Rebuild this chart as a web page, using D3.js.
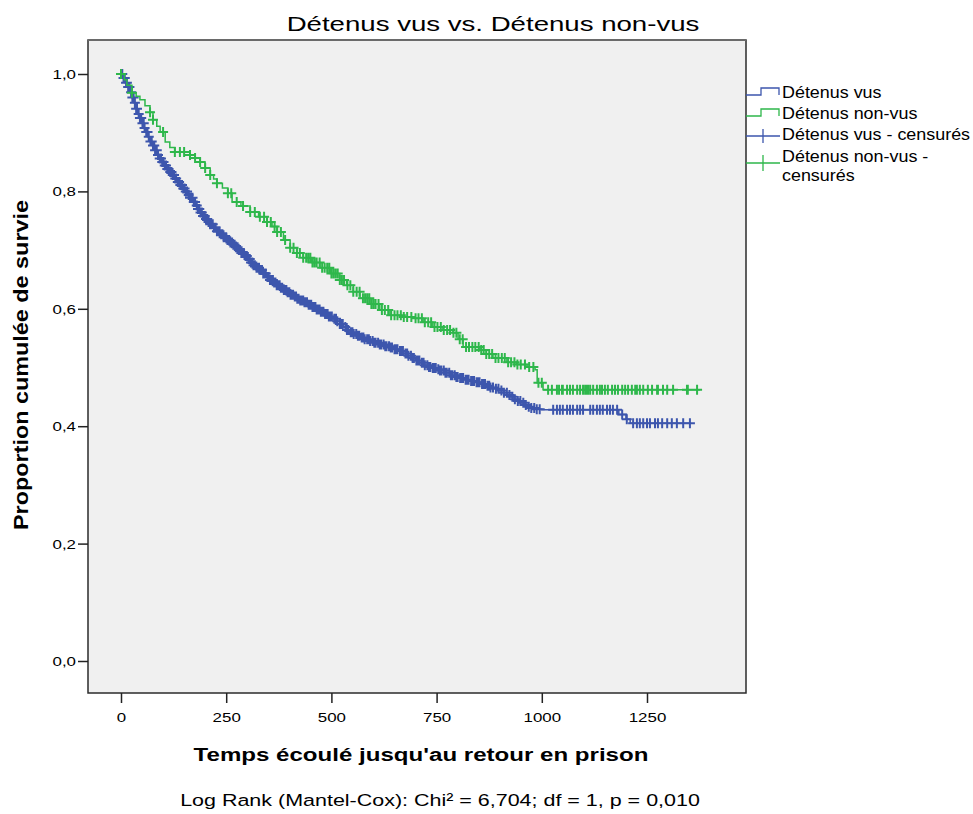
<!DOCTYPE html>
<html>
<head>
<meta charset="utf-8">
<script src="https://cdn.jsdelivr.net/npm/d3@7"></script>
<style>
  body { margin: 0; background: #fff; }
  svg text { font-family: "Liberation Sans", Arial, sans-serif; fill: #000; }
</style>
</head>
<body>
<svg id="chart" width="973" height="814"></svg>
<script>
// Kaplan-Meier steps: [time, cumulative survival]
const vusSteps = [
  [0, 1.000], [5, 0.993], [10, 0.985], [15, 0.978], [21, 0.969], [26, 0.960], [31, 0.951],
  [36, 0.941], [41, 0.932], [45, 0.925], [50, 0.916], [55, 0.908], [59, 0.901], [64, 0.893],
  [69, 0.885], [74, 0.878], [80, 0.870], [86, 0.862], [92, 0.856], [98, 0.850], [104, 0.844],
  [110, 0.838], [116, 0.833], [122, 0.828], [128, 0.822], [134, 0.816], [140, 0.811],
  [146, 0.805], [152, 0.800], [158, 0.794], [164, 0.789], [171, 0.782], [177, 0.776],
  [183, 0.770], [189, 0.764], [195, 0.758], [201, 0.753], [207, 0.748], [212, 0.744],
  [220, 0.738], [228, 0.732], [236, 0.727], [244, 0.722], [252, 0.717], [259, 0.713],
  [266, 0.709], [272, 0.705], [279, 0.700], [286, 0.695], [293, 0.690], [300, 0.685],
  [308, 0.679], [315, 0.674], [322, 0.670], [330, 0.666], [338, 0.660], [346, 0.654],
  [354, 0.649], [362, 0.645], [370, 0.640], [378, 0.636], [386, 0.632], [394, 0.628],
  [402, 0.624], [410, 0.621], [418, 0.617], [425, 0.614], [434, 0.611], [444, 0.607],
  [454, 0.603], [464, 0.599], [474, 0.595], [484, 0.591], [494, 0.587], [504, 0.583],
  [512, 0.579], [520, 0.574], [528, 0.569], [536, 0.564], [544, 0.560], [552, 0.557],
  [560, 0.554], [568, 0.551], [578, 0.548], [590, 0.545], [602, 0.542], [614, 0.539],
  [626, 0.536], [638, 0.534], [650, 0.531], [663, 0.528], [672, 0.524], [681, 0.520],
  [690, 0.516], [700, 0.512], [710, 0.508], [720, 0.504], [730, 0.501], [740, 0.499],
  [750, 0.497], [758, 0.495], [770, 0.491], [782, 0.487], [794, 0.484], [806, 0.482],
  [818, 0.479], [830, 0.477], [842, 0.475], [854, 0.472], [866, 0.469], [878, 0.466],
  [890, 0.464], [901, 0.461], [910, 0.457], [918, 0.453], [926, 0.450], [934, 0.446],
  [942, 0.443], [950, 0.440], [958, 0.436], [966, 0.433], [975, 0.431], [985, 0.429],
  [1000, 0.428], [1183, 0.420], [1200, 0.412], [1210, 0.405]
];
const vusEnd = 1352;

const nonVusSteps = [
  [0, 1.0], [8, 0.990], [14, 0.981], [26, 0.968], [36, 0.962], [45, 0.956], [57, 0.946],
  [69, 0.935], [76, 0.922], [85, 0.911], [93, 0.901], [105, 0.884], [116, 0.875],
  [128, 0.867], [164, 0.862], [176, 0.857], [188, 0.850], [200, 0.840], [212, 0.828],
  [220, 0.821], [228, 0.814], [241, 0.806], [254, 0.797], [264, 0.782], [285, 0.775],
  [307, 0.765], [327, 0.757], [347, 0.748], [359, 0.740], [371, 0.731], [386, 0.717],
  [402, 0.704], [418, 0.695], [433, 0.687], [453, 0.679], [473, 0.670], [497, 0.660],
  [520, 0.649], [536, 0.640], [552, 0.629], [568, 0.618], [591, 0.608], [615, 0.598],
  [639, 0.589], [666, 0.586], [694, 0.584], [718, 0.577], [741, 0.569], [765, 0.564],
  [789, 0.559], [801, 0.548], [813, 0.535], [853, 0.530], [868, 0.523], [884, 0.516],
  [917, 0.509], [940, 0.505], [965, 0.501], [984, 0.496], [989, 0.474], [1003, 0.462]
];
const nonVusEnd = 1376;

// censored observations (times)
const vusCensored = [
  3, 6, 9, 12, 14, 17, 20, 24, 27, 30, 33, 36, 38, 42, 45, 48, 51, 54, 56, 60, 63, 66,
  70, 73, 76, 79, 81, 85, 88, 92, 95, 98, 101, 104, 107, 110, 113, 117, 120, 123, 126,
  129, 131, 135, 138, 141, 145, 148, 151, 154, 157, 161, 164, 167, 170, 173, 176, 180,
  183, 186, 189, 192, 195, 199, 202, 205, 208, 212, 215, 218, 221, 225, 228, 231, 234,
  238, 241, 244, 247, 250, 253, 257, 260, 264, 267, 270, 273, 277, 280, 283, 286, 289,
  292, 296, 299, 303, 306, 309, 312, 315, 318, 322, 325, 328, 331, 335, 338, 341, 344,
  348, 351, 354, 357, 361, 364, 367, 370, 374, 377, 380, 383, 387, 390, 393, 396, 400,
  403, 406, 409, 413, 416, 419, 422, 426, 429, 433, 436, 439, 442, 446, 449, 452, 455,
  459, 462, 465, 468, 472, 475, 478, 481, 485, 488, 491, 494, 498,
  501, 507, 511, 514, 520, 524, 527, 533, 537, 540, 546, 550, 553, 559, 563, 566, 572,
  576, 579, 585, 589, 592, 598, 602, 605, 611, 615, 618, 624, 628, 631, 637, 641, 644,
  650, 654, 657, 663, 667, 670, 676, 680, 683, 689, 693, 696, 702, 706, 709, 715, 719,
  722, 728, 732, 735, 741, 745, 748, 754, 758, 761, 767, 771, 774, 780, 784, 787, 793,
  797, 800, 806, 810, 813, 819, 823, 826, 832, 836, 839, 845, 849, 852, 858, 862, 865,
  871, 875, 878, 884, 891, 897, 904, 910, 917, 923, 930, 936, 943, 949, 956, 962, 969,
  975, 982, 988, 995,
  1027, 1036, 1043, 1050, 1060, 1067, 1074, 1084, 1091, 1098, 1115, 1122, 1131, 1138,
  1145, 1155, 1162, 1169, 1179, 1191, 1202, 1217, 1226, 1233, 1241, 1250, 1257, 1269,
  1276, 1286, 1298, 1309, 1321, 1336, 1352
];
const nonVusCensored = [
  0, 26, 69, 76, 100, 128, 140, 150, 164, 176, 188, 200, 212, 228, 254, 262, 275, 290,
  307, 318, 330, 340, 347, 356, 365, 371, 380, 390, 402, 410, 418, 425, 433, 440, 445,
  450, 455, 460, 465, 472, 478, 484, 490, 495, 500, 505, 510, 515, 520, 525, 530, 538,
  545, 552, 560, 567, 575, 580, 585, 590, 595, 600, 605, 612, 620, 627, 635, 642, 650,
  657, 665, 672, 680, 690, 700, 707, 715, 722, 730, 737, 745, 752, 760, 767, 775, 782,
  790, 797, 805, 812, 820, 827, 835, 842, 850, 856, 862, 868, 875, 882, 890, 897, 905,
  912, 920, 927, 935, 942, 950, 960, 970, 980, 992, 1000,
  1015, 1024, 1036, 1041, 1048, 1050, 1060, 1067, 1074, 1084, 1091, 1098, 1103, 1107,
  1110, 1115, 1122, 1131, 1138, 1143, 1150, 1157, 1167, 1174, 1181, 1191, 1198, 1205,
  1214, 1222, 1226, 1233, 1241, 1252, 1262, 1274, 1276, 1288, 1298, 1312, 1345, 1347, 1369
];

const xTicks = [0, 250, 500, 750, 1000, 1250];
const yTicks = [0, 0.2, 0.4, 0.6, 0.8, 1.0];
const legendLabels = [
  ['Détenus vus'], ['Détenus non-vus'], ['Détenus vus - censurés'], ['Détenus non-vus -', 'censurés']
];
const titleText = 'Détenus vus vs. Détenus non-vus';
const xLabelText = "Temps écoulé jusqu'au retour en prison";
const yLabelText = 'Proportion cumulée de survie';
const footnoteText = 'Log Rank (Mantel-Cox): Chi² = 6,704; df = 1, p = 0,010';

const BLUE = '#3d56ad';
const GREEN = '#2eb74b';
const PLOT = {left: 88, top: 40, right: 746, bottom: 693};
const TEXT_STRETCH = 1.3;
const MARK = 5; // half size of a censoring cross

const svg = d3.select('#chart');

const x = d3.scaleLinear().domain([0, 1250]).range([121, 647]);
const y = d3.scaleLinear().domain([0, 1]).range([661, 74]);

// plot background
svg.append('rect')
  .attr('x', PLOT.left).attr('y', PLOT.top)
  .attr('width', PLOT.right - PLOT.left).attr('height', PLOT.bottom - PLOT.top)
  .attr('fill', '#f0f0f0').attr('stroke', '#2b2b2b').attr('stroke-width', 1.5);
svg.append('line')
  .attr('x1', PLOT.left).attr('x2', PLOT.right).attr('y1', PLOT.top).attr('y2', PLOT.top)
  .attr('stroke', '#6a6a6a').attr('stroke-width', 2);

// horizontal stretch needed to bring a text to a target width
function fit(sel, width){
  return width / sel.node().getComputedTextLength();
}

// axes
const yAxis = d3.axisLeft(y).tickValues(yTicks).tickSize(10).tickSizeOuter(0)
  .tickFormat(d => d3.format('.1f')(d).replace('.', ','));
const gy = svg.append('g').attr('transform', `translate(${PLOT.left},0)`).call(yAxis);
gy.select('.domain').remove();
gy.selectAll('line').attr('stroke', '#222').attr('stroke-width', 1.5);
gy.selectAll('text')
  .attr('x', 0).attr('dy', '0.35em')
  .style('font-size', '13px').style('font-family', '"Liberation Sans", Arial, sans-serif')
  .attr('fill', '#111')
  .attr('transform', `translate(-12,0) scale(${TEXT_STRETCH},1)`);

const xAxis = d3.axisBottom(x).tickValues(xTicks).tickSize(10).tickSizeOuter(0)
  .tickFormat(d3.format('d'));
const gx = svg.append('g').attr('transform', `translate(0,${PLOT.bottom})`).call(xAxis);
gx.select('.domain').remove();
gx.selectAll('line').attr('stroke', '#222').attr('stroke-width', 1.5);
gx.selectAll('text')
  .attr('y', 0).attr('dy', 0)
  .style('font-size', '13px').style('font-family', '"Liberation Sans", Arial, sans-serif')
  .attr('fill', '#111')
  .attr('transform', `translate(0,29) scale(${TEXT_STRETCH},1)`);

// curves
const line = d3.line().x(d => x(d[0])).y(d => y(d[1])).curve(d3.curveStepAfter);

function survivalAt(steps, t){
  const i = d3.bisector(d => d[0]).right(steps, t) - 1;
  return steps[Math.max(0, i)][1];
}

function cross(cx, cy, h){
  return `M${cx - h},${cy}h${2 * h}M${cx},${cy - h}v${2 * h}`;
}

function drawGroup(steps, end, censored, color){
  const pts = steps.concat([[end, steps[steps.length - 1][1]]]);
  svg.append('path').datum(pts)
    .attr('d', line).attr('fill', 'none')
    .attr('stroke', color).attr('stroke-width', 1.5);
  svg.append('path')
    .attr('d', censored.map(t => cross(x(t), y(survivalAt(steps, t)), MARK)).join(''))
    .attr('fill', 'none').attr('stroke', color).attr('stroke-width', 2);
}

drawGroup(vusSteps, vusEnd, vusCensored, BLUE);
drawGroup(nonVusSteps, nonVusEnd, nonVusCensored, GREEN);

// legend
const lg = svg.append('g');
lg.append('path').attr('d', 'M746,95H761V88H779V95').attr('fill', 'none').attr('stroke', BLUE).attr('stroke-width', 1.3);
lg.append('path').attr('d', 'M746,116H761V109H779V116').attr('fill', 'none').attr('stroke', GREEN).attr('stroke-width', 1.3);
lg.append('path').attr('d', 'M746,136H780' + cross(763, 136, 7)).attr('fill', 'none').attr('stroke', BLUE).attr('stroke-width', 1.3);
lg.append('path').attr('d', 'M746,163H780' + cross(763, 163, 8)).attr('fill', 'none').attr('stroke', GREEN).attr('stroke-width', 1.3);

const legendBaselines = [[98], [119], [140], [162, 181]];
legendLabels.forEach((rows, i) => {
  rows.forEach((r, j) => {
    lg.append('text')
      .attr('transform', `translate(782,${legendBaselines[i][j]}) scale(1.12,1)`)
      .style('font-size', '16px')
      .attr('fill', '#111')
      .text(r);
  });
});

// title and labels
const title = svg.append('text').attr('text-anchor', 'middle').style('font-size', '21px').text(titleText);
title.attr('transform', `translate(493,31) scale(${fit(title, 413)},1)`);

const xl = svg.append('text').attr('text-anchor', 'middle')
  .style('font-size', '19px').style('font-weight', 'bold').text(xLabelText);
xl.attr('transform', `translate(421,761) scale(${fit(xl, 455)},1)`);

const yl = svg.append('text').attr('text-anchor', 'middle')
  .style('font-size', '17px').style('font-weight', 'bold').text(yLabelText);
yl.attr('transform', `translate(28,365) rotate(-90) scale(${fit(yl, 330)},1.2)`);

const fn = svg.append('text').attr('text-anchor', 'middle')
  .style('font-size', '17px').text(footnoteText);
fn.attr('transform', `translate(440,806) scale(${fit(fn, 520)},1)`);
</script>
</body>
</html>
